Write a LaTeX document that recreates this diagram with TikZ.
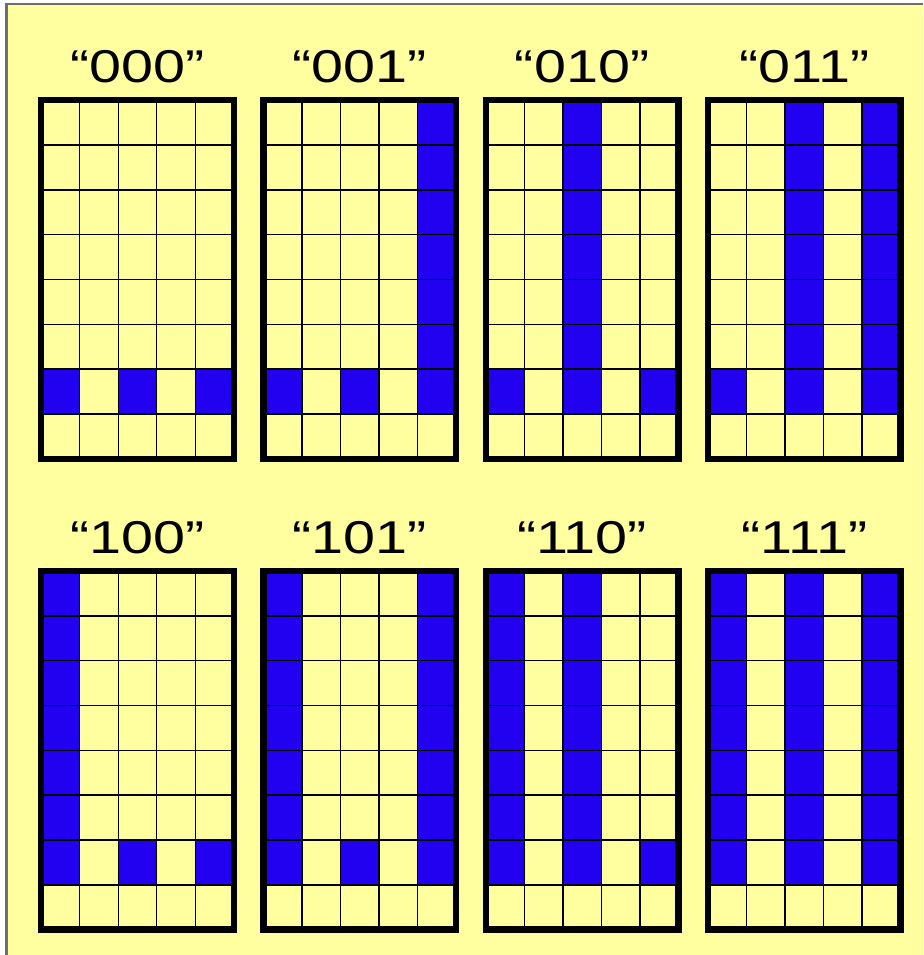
\documentclass[tikz,border=0pt]{standalone}
\usepackage{fontspec}
\usepackage{xcolor}
\usepackage{tikz}
\usetikzlibrary{positioning}
\newfontfamily\codefont[FakeStretch=1.25]{Liberation Sans}
\definecolor{paper}{RGB}{255,255,160}
\definecolor{bitblue}{RGB}{34,0,240}
\definecolor{rim}{RGB}{110,110,110}

\begin{document}
\begin{tikzpicture}[x=0.75pt,y=-0.75pt,
  cell/.style={draw=black,line width=1.1pt},
  frame/.style={draw=black,line width=4.9pt,inner sep=0pt,outer sep=0pt,
    minimum width=144.45pt,minimum height=268.95pt},
  bitlabel/.style={font=\codefont\fontsize{34.5pt}{40pt}\selectfont,inner sep=0pt}]

  \useasboundingbox (0,0) rectangle (923,955);
  \fill[white] (0,0) rectangle (923,955);
  \fill[paper] (6.5,4) rectangle (923,955);
  \draw[rim,line width=1.9pt] (6.5,955) -- (6.5,4) -- (923,4);

  \def\cw{38.52}
  \def\ch{44.83}

  \foreach \bits/\gi/\gj/\ba/\bb/\bc in {000/0/0/0/0/0,001/1/0/0/0/1,010/2/0/0/1/0,011/3/0/0/1/1,
                                        100/0/1/1/0/0,101/1/1/1/0/1,110/2/1/1/1/0,111/3/1/1/1/1}{
    \pgfmathsetmacro\gx{41.2+222.3*\gi}
    \pgfmathsetmacro\gy{100.2+470.8*\gj}
    % blue columns, one per bit
    \foreach \col/\bit in {0/\ba,2/\bb,4/\bc}
      \fill[bitblue] ({\gx+\col*\cw},{\gy+(1-\bit)*6*\ch}) rectangle ({\gx+(\col+1)*\cw},{\gy+7*\ch});
    \foreach \k in {1,...,4}
      \draw[cell] ({\gx+\k*\cw},\gy) -- ++(0,{8*\ch});
    \foreach \k in {1,...,7}
      \draw[cell] (\gx,{\gy+\k*\ch}) -- ++({5*\cw},0);
    \node[frame] (g\bits) at ({\gx+2.5*\cw},{\gy+4*\ch}) {};
    \node[bitlabel,above=12.75pt of g\bits.north] (l\bits) {“\bits”};
  }
\end{tikzpicture}
\end{document}
